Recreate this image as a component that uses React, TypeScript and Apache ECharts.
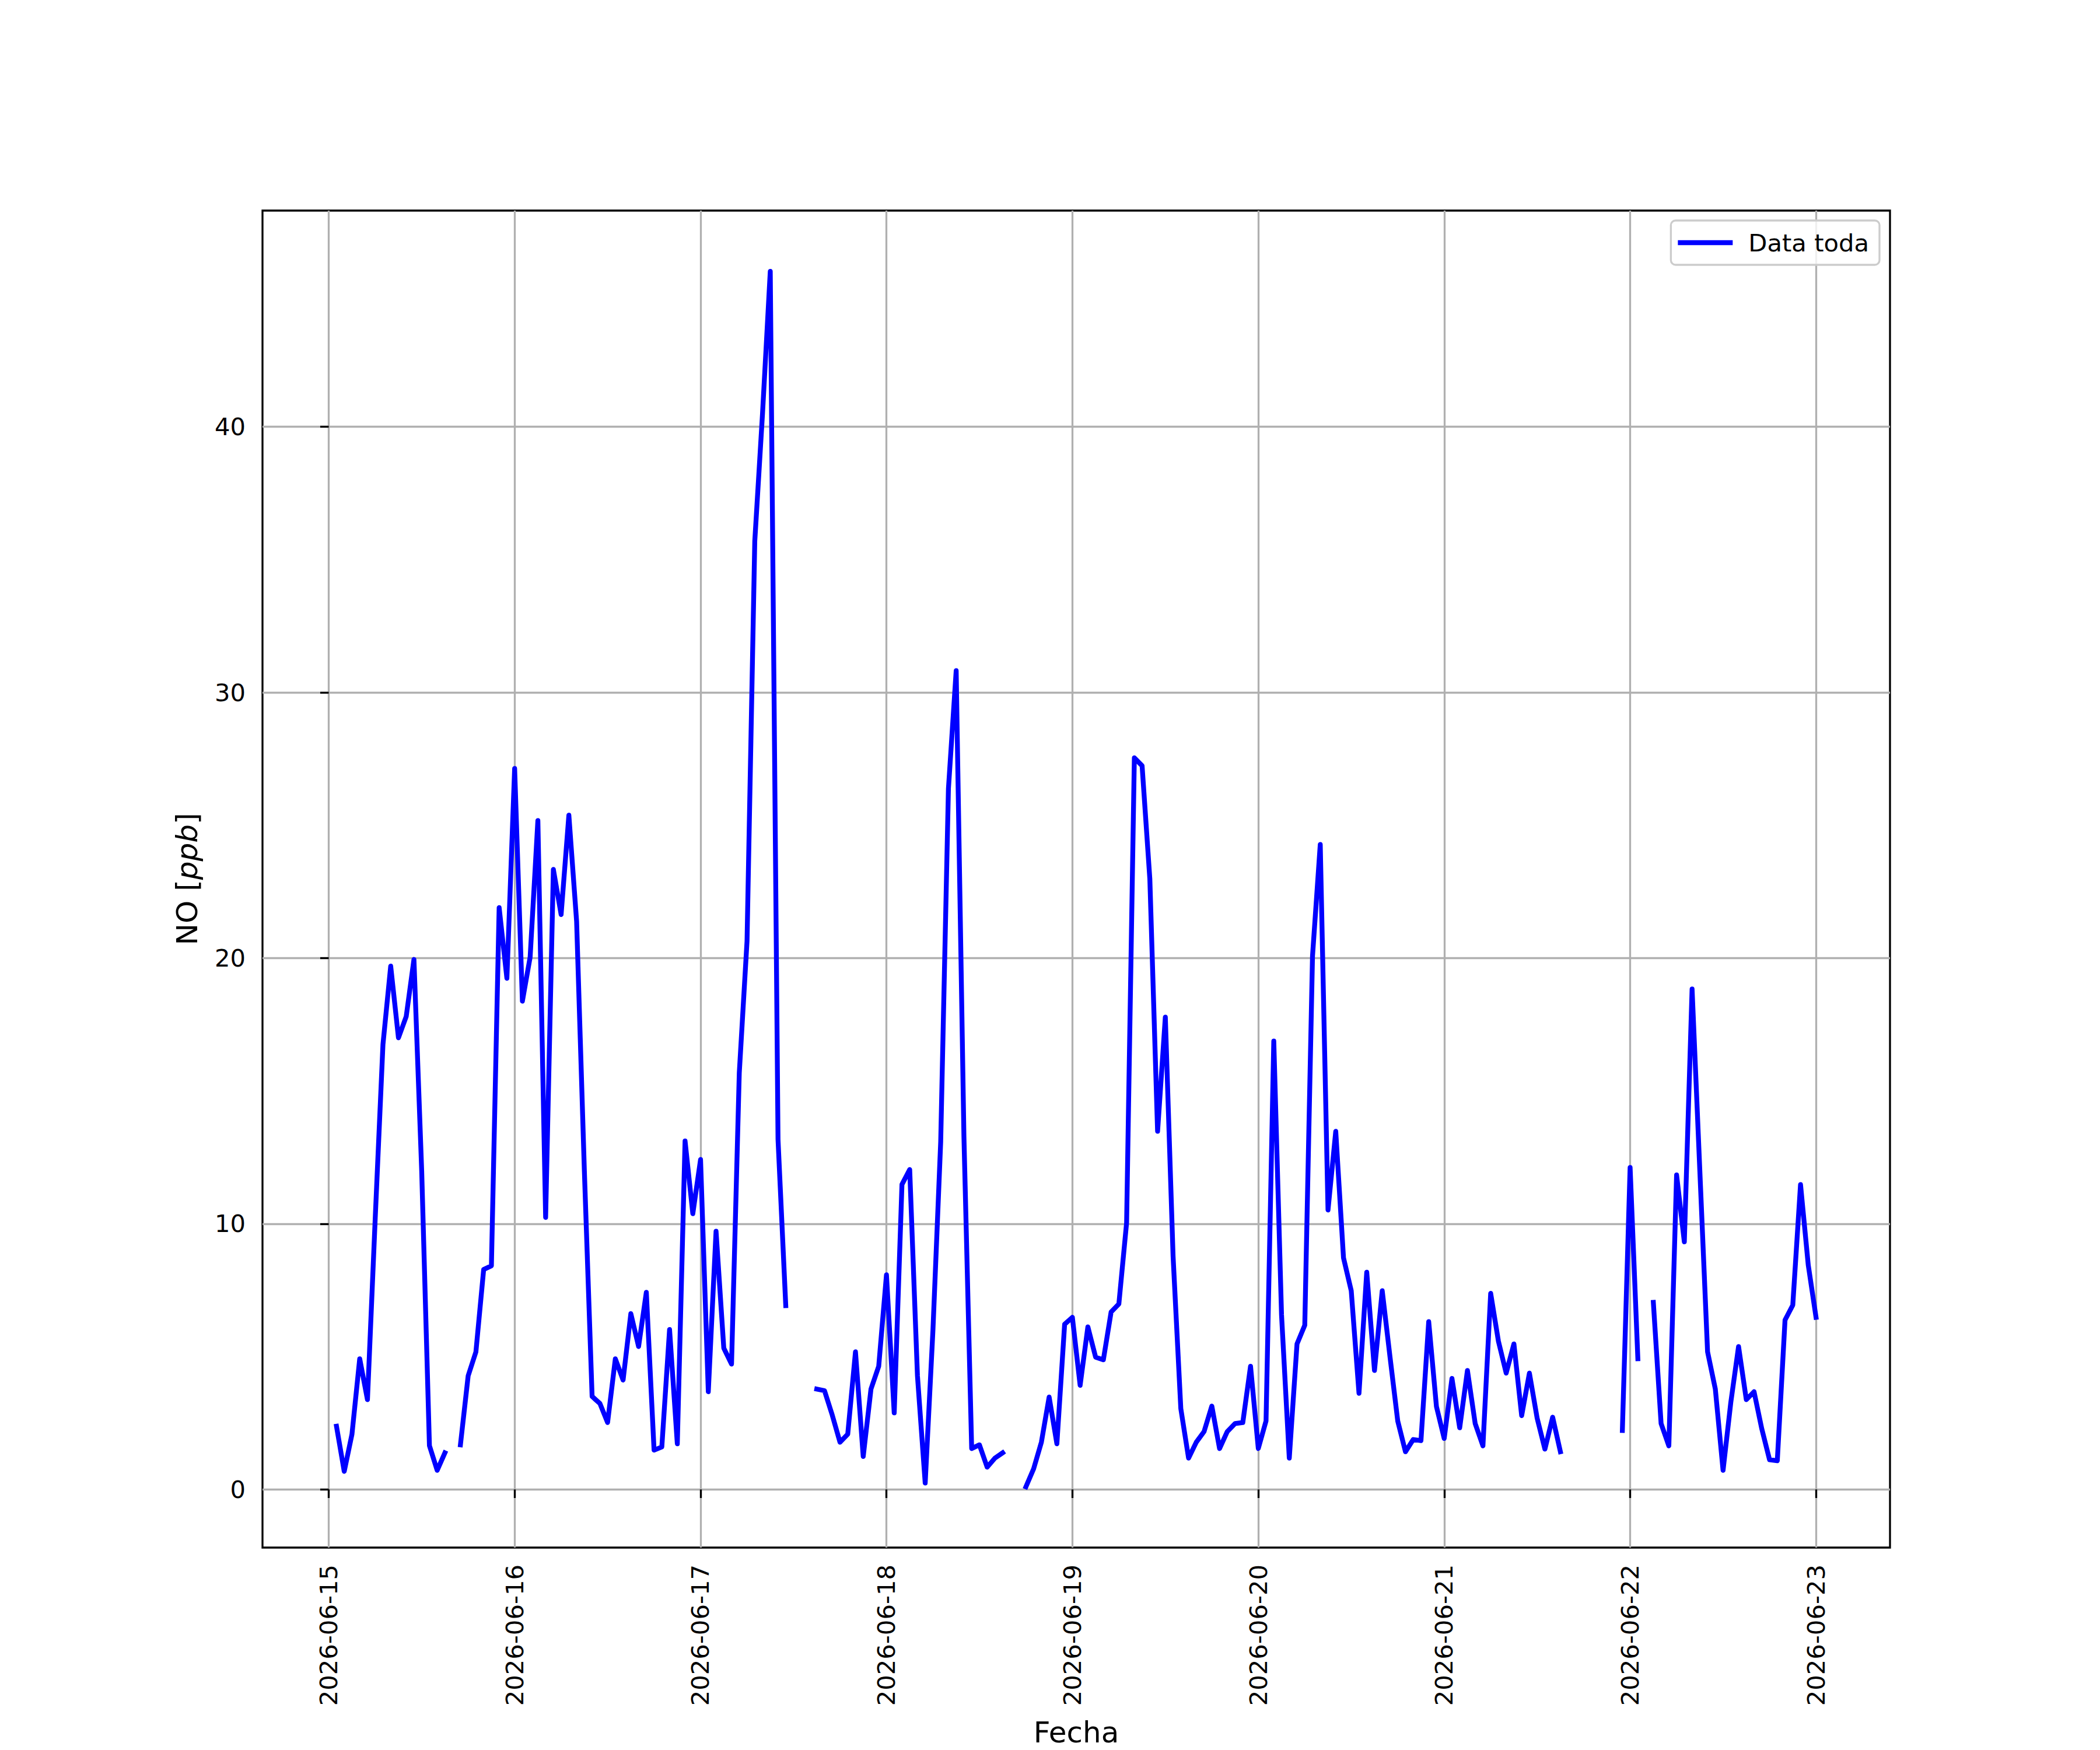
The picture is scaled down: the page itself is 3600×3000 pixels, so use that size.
import React, { useEffect, useRef } from "react";
import * as echarts from "echarts";

// Hourly NO values starting 2026-06-15 01:00 (null = missing hour)
const firstHour = 1; // hours after 2026-06-15 00:00
const noValues: (number | null)[] = [
  2.38, 0.68, 2.08, 4.92, 3.38, 10.2, 16.75, 19.7, 17.0, 17.8, 19.95, 12.0, 1.65, 0.72, 1.38, null,
  1.68, 4.28, 5.18, 8.28, 8.42, 21.9, 19.24, 27.14,
  18.38, 20.04, 25.18, 10.24, 23.34, 21.64, 25.38, 21.38, 12.0, 3.5, 3.24, 2.52,
  4.92, 4.12, 6.62, 5.38, 7.42, 1.48, 1.6, 6.02, 1.72, 13.12, 10.38, 12.42,
  3.68, 9.72, 5.32, 4.72, 15.68, 20.64, 35.7, 40.5, 45.85, 13.18, 6.92, null,
  null, null, 3.78, 3.72, 2.8, 1.78, 2.08, 5.18, 1.24, 3.78, 4.64, 8.08,
  2.88, 11.48, 12.04, 4.28, 0.24, 6.0, 13.08, 26.38, 30.82, 13.28, 1.54, 1.68,
  0.84, 1.18, 1.38, null, null, 0.1, 0.78, 1.78, 3.48, 1.72, 6.22, 6.48,
  3.92, 6.12, 4.98, 4.88, 6.68, 6.98, 10.04, 27.54, 27.24, 22.98, 13.48, 17.78,
  8.78, 3.04, 1.18, 1.78, 2.18, 3.14, 1.54, 2.18, 2.48, 2.52, 4.64, 1.54,
  2.58, 16.88, 6.58, 1.18, 5.48, 6.18, 20.08, 24.28, 10.52, 13.48, 8.72, 7.48,
  3.62, 8.18, 4.48, 7.48, 5.0, 2.58, 1.42, 1.88, 1.84, 6.32, 3.12, 1.92,
  4.18, 2.32, 4.48, 2.48, 1.64, 7.38, 5.58, 4.38, 5.48, 2.78, 4.38, 2.68,
  1.52, 2.72, 1.42, null, null, null, null, null, null, null, 2.22, 12.12,
  4.92, null, 7.04, 2.48, 1.64, 11.84, 9.32, 18.84, 12.0, 5.18, 3.78, 0.72,
  3.28, 5.38, 3.38, 3.68, 2.28, 1.12, 1.08, 6.38, 6.94, 11.48, 8.44, 6.48,
];

const xTickLabels = [
  "2026-06-15", "2026-06-16", "2026-06-17", "2026-06-18", "2026-06-19",
  "2026-06-20", "2026-06-21", "2026-06-22", "2026-06-23",
];
const yTickValues = [0, 10, 20, 30, 40];

const FONT = "DejaVu Sans";

export default function App() {
  const ref = useRef<HTMLDivElement>(null);

  useEffect(() => {
    document.body.style.margin = "0";
    if (!ref.current) return;
    const chart = echarts.init(ref.current, null, { renderer: "svg" });

    const seriesData = noValues.map((v, i) => [firstHour + i, v === null ? "-" : v]);
    const xTickValues = xTickLabels.map((_, i) => i * 24);
    const lastHour = firstHour + noValues.length - 1;
    const span = lastHour - firstHour;
    const xMin = firstHour - 0.05 * span;
    const xMax = lastHour + 0.05 * span;
    const numeric = noValues.filter((v) => v !== null) as number[];
    const vMin = Math.min(...numeric);
    const vMax = Math.max(...numeric);
    const yMin = vMin - 0.05 * (vMax - vMin);
    const yMax = vMax + 0.05 * (vMax - vMin);

    chart.setOption({
      animation: false,
      backgroundColor: "#ffffff",
      grid: {
        left: 450,
        top: 361,
        width: 2790,
        height: 2309,
        show: true,
        borderColor: "#000000",
        borderWidth: 3.3,
        backgroundColor: "transparent",
        containLabel: false,
      },
      legend: {
        show: true,
        data: ["Data toda"],
        right: 378,
        top: 378,
        orient: "vertical",
        icon: "rect",
        itemWidth: 94,
        itemHeight: 8.3,
        padding: [14, 18, 14, 12],
        backgroundColor: "rgba(255,255,255,0.8)",
        borderColor: "#cccccc",
        borderWidth: 3.3,
        borderRadius: 8,
        textStyle: {
          fontFamily: FONT,
          fontSize: 41.7,
          color: "#000000",
          lineHeight: 48,
          padding: [0, 0, 0, 22],
        },
      },
      xAxis: {
        type: "value",
        min: xMin,
        max: xMax,
        name: "Fecha",
        nameLocation: "middle",
        nameGap: 292,
        nameTextStyle: { fontFamily: FONT, fontSize: 50, color: "#000000" },
        axisLine: { show: false },
        axisTick: {
          show: true,
          length: 14.6,
          lineStyle: { color: "#000000", width: 3.3 },
          customValues: xTickValues,
        },
        axisLabel: {
          customValues: xTickValues,
          rotate: 90,
          margin: 29,
          fontFamily: FONT,
          fontSize: 41.7,
          color: "#000000",
          formatter: (v: number) => {
            const idx = xTickValues.indexOf(Math.round(v));
            return idx >= 0 ? xTickLabels[idx] : "";
          },
        },
        splitLine: {
          show: true,
          lineStyle: { color: "#b0b0b0", width: 3.3 },
        },
      },
      yAxis: {
        type: "value",
        min: yMin,
        max: yMax,
        name: "{a|NO [}{b|ppb}{a|]}",
        nameLocation: "middle",
        nameRotate: 90,
        nameGap: 104,
        nameTextStyle: {
          fontFamily: FONT,
          fontSize: 50,
          color: "#000000",
          rich: {
            a: { fontFamily: FONT, fontSize: 50, color: "#000000" },
            b: { fontFamily: FONT, fontSize: 50, color: "#000000", fontStyle: "italic" },
          },
        },
        axisLine: { show: false },
        axisTick: {
          show: true,
          length: 14.6,
          lineStyle: { color: "#000000", width: 3.3 },
          customValues: yTickValues,
        },
        axisLabel: {
          customValues: yTickValues,
          margin: 29,
          fontFamily: FONT,
          fontSize: 41.7,
          color: "#000000",
        },
        splitLine: {
          show: true,
          lineStyle: { color: "#b0b0b0", width: 3.3 },
        },
      },
      series: [
        {
          name: "Data toda",
          type: "line",
          data: seriesData,
          showSymbol: false,
          symbol: "none",
          connectNulls: false,
          color: "#0000ff",
          lineStyle: { color: "#0000ff", width: 8.3, cap: "square", join: "round" },
          emphasis: { disabled: true },
        },
      ],
    });

    return () => chart.dispose();
  }, []);

  return <div ref={ref} style={{ width: 3600, height: 3000 }} />;
}
